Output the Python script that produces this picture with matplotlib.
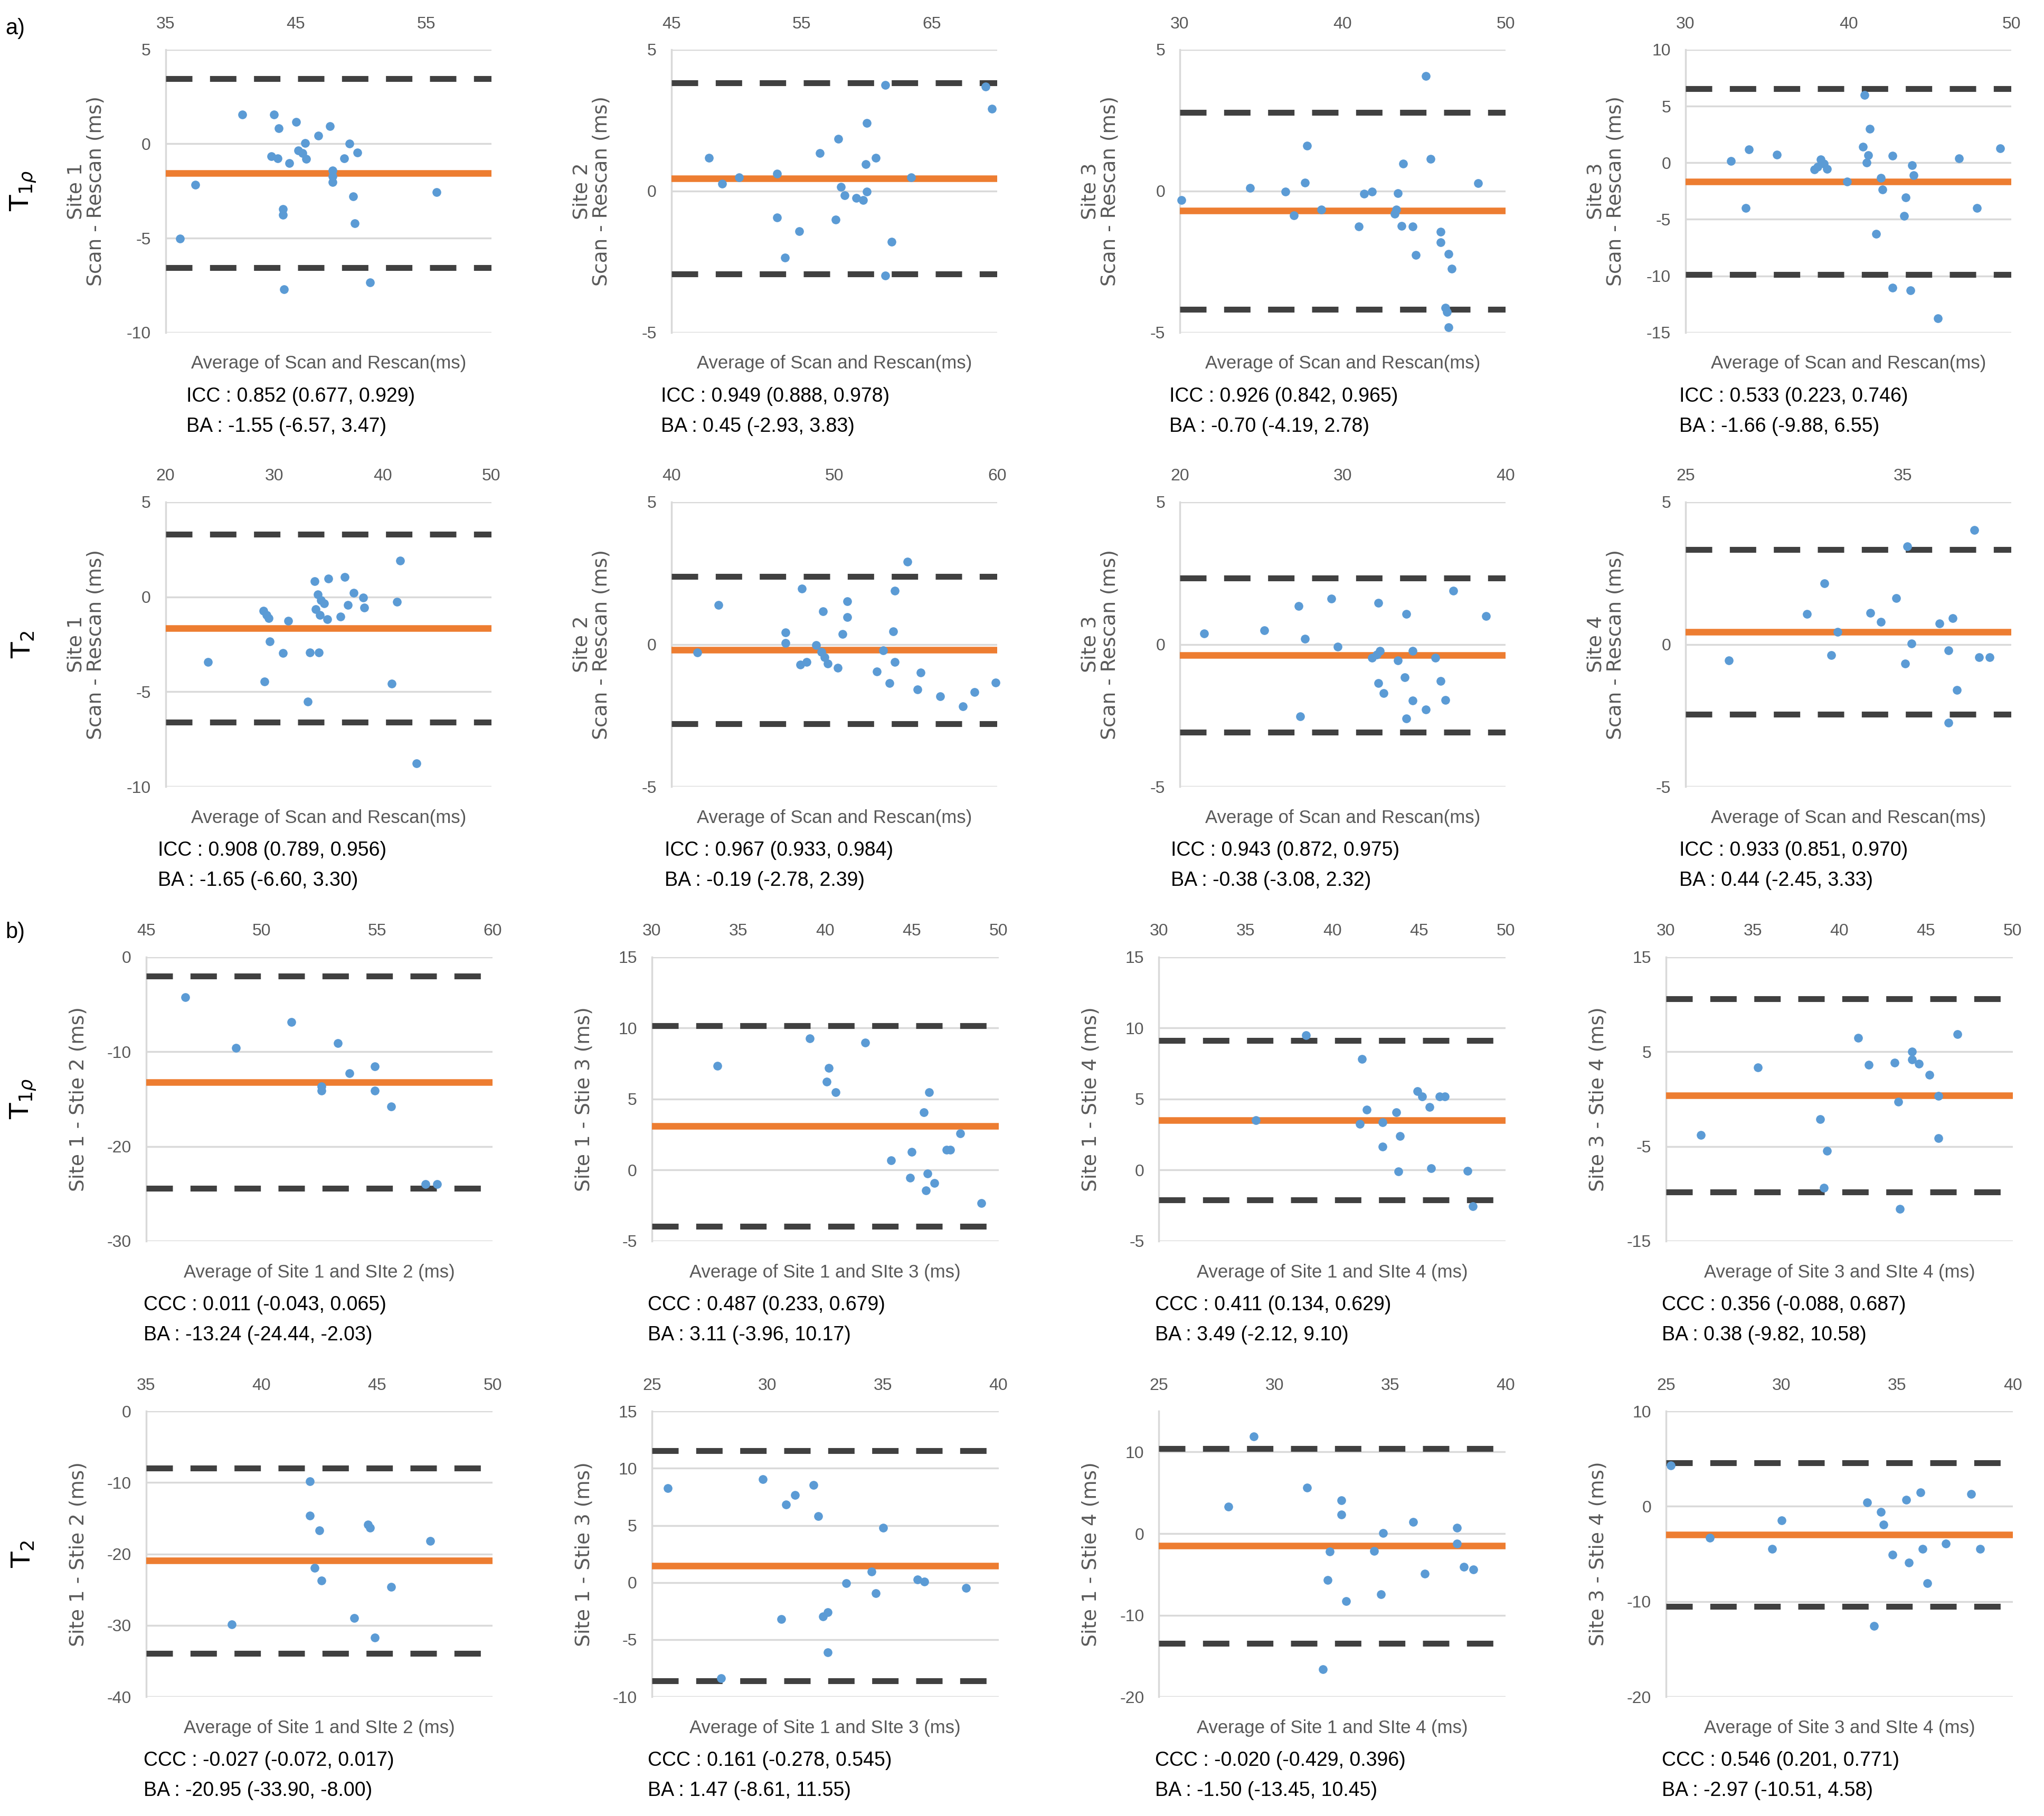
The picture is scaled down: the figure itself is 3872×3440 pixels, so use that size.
import numpy as np
import matplotlib.pyplot as plt

plt.rcParams['font.family'] = ['Liberation Sans Narrow', 'Liberation Sans', 'DejaVu Sans']
plt.rcParams['axes.unicode_minus'] = False

# ---- a) T1rho scan-rescan ----
t1r_site1_x = [36.1, 37.3, 40.9, 43.3, 43.7, 45.0, 46.7, 47.6, 45.7, 49.1, 49.7, 48.7, 43.1, 43.6, 44.5, 45.2, 45.5, 45.8, 47.8, 47.8, 47.8, 49.4, 44.0, 44.0, 49.5, 55.8, 44.1, 50.7]
t1r_site1_y = [-5.03, -2.17, 1.55, 1.55, 0.82, 1.17, 0.44, 0.94, 0.03, 0.0, -0.46, -0.78, -0.65, -0.78, -1.03, -0.35, -0.5, -0.8, -1.41, -1.72, -2.02, -2.78, -3.47, -3.77, -4.22, -2.55, -7.72, -7.34]
t1r_site2_x = [47.9, 48.9, 50.2, 53.1, 53.1, 54.8, 53.7, 56.4, 57.6, 57.8, 58.0, 58.3, 59.2, 59.7, 60.0, 59.9, 60.7, 60.0, 61.4, 61.4, 61.9, 63.4, 69.1, 69.6]
t1r_site2_y = [1.17, 0.25, 0.49, 0.61, -0.93, -1.42, -2.35, 1.34, -1.01, 1.85, 0.15, -0.15, -0.25, -0.33, -0.03, 0.94, 1.17, 2.40, 3.75, -2.99, -1.79, 0.48, 3.70, 2.91]
t1r_site3_x = [30.1, 34.3, 36.5, 37.0, 37.8, 37.7, 38.7, 41.0, 41.3, 41.8, 43.4, 43.3, 43.2, 43.7, 43.6, 44.3, 44.5, 45.1, 45.4, 46.0, 46.0, 46.5, 46.7, 46.3, 46.4, 46.5, 48.3]
t1r_site3_y = [-0.33, 0.10, -0.03, -0.86, 1.61, 0.30, -0.66, -1.26, -0.10, -0.03, -0.08, -0.66, -0.81, 0.96, -1.24, -1.26, -2.27, 4.06, 1.14, -1.44, -1.81, -2.22, -2.74, -4.13, -4.28, -4.81, 0.27]
t1r_site3b_x = [32.8, 33.9, 33.7, 35.6, 37.9, 38.1, 38.3, 38.5, 38.7, 39.9, 40.9, 41.2, 41.1, 41.0, 41.3, 42.0, 42.1, 41.7, 42.7, 43.9, 44.0, 43.5, 43.4, 42.7, 43.8, 45.5, 46.8, 47.9, 49.3]
t1r_site3b_y = [0.15, 1.16, -4.02, 0.71, -0.61, -0.35, 0.28, -0.10, -0.56, -1.67, 1.41, 0.66, 0.03, 5.96, 2.98, -1.36, -2.37, -6.29, 0.61, -0.23, -1.11, -3.08, -4.70, -11.04, -11.26, -13.74, 0.40, -4.02, 1.29]

# ---- a) T2 scan-rescan ----
t2_site1_x = [23.9, 29.0, 29.3, 29.5, 29.6, 29.1, 30.8, 31.3, 33.1, 33.3, 34.1, 33.7, 34.0, 34.3, 34.6, 33.8, 34.2, 34.9, 35.0, 36.1, 36.5, 36.8, 37.3, 38.2, 38.3, 40.8, 41.3, 41.6, 43.1]
t2_site1_y = [-3.43, -0.73, -0.96, -1.11, -2.35, -4.47, -2.97, -1.27, -5.52, -2.94, -2.94, 0.82, 0.12, -0.19, -0.34, -0.65, -0.96, -1.19, 0.97, -1.04, 1.05, -0.42, 0.20, -0.03, -0.57, -4.56, -0.26, 1.90, -8.76]
t2_site2_x = [41.6, 42.9, 47.0, 47.0, 47.9, 48.3, 48.0, 48.9, 49.2, 49.4, 49.6, 49.3, 50.2, 50.5, 50.8, 50.8, 52.6, 53.0, 53.4, 53.6, 53.7, 53.7, 54.5, 55.3, 55.1, 56.5, 57.9, 58.6, 59.9]
t2_site2_y = [-0.28, 1.38, 0.41, 0.05, -0.72, -0.62, 1.95, -0.03, -0.26, -0.46, -0.67, 1.16, -0.82, 0.36, 0.95, 1.51, -0.95, -0.21, -1.36, 0.46, 1.88, -0.62, 2.90, -0.99, -1.59, -1.82, -2.17, -1.67, -1.35]
t2_site3_x = [21.5, 25.2, 27.3, 27.7, 27.4, 29.3, 29.7, 32.2, 31.8, 32.1, 32.3, 32.2, 32.5, 33.4, 33.8, 33.9, 33.9, 34.3, 34.3, 35.1, 35.7, 36.0, 36.3, 36.8, 38.8]
t2_site3_y = [0.39, 0.49, 1.34, 0.19, -2.52, 1.60, -0.09, 1.45, -0.48, -0.36, -0.23, -1.36, -1.72, -0.56, -1.15, 1.06, -2.60, -0.23, -1.98, -2.29, -0.48, -1.29, -1.96, 1.89, 0.99]
t2_site4_x = [27.0, 30.6, 31.4, 31.7, 32.0, 33.5, 34.0, 34.7, 35.1, 35.2, 35.4, 36.7, 37.1, 37.1, 37.3, 37.5, 38.3, 38.5, 39.0]
t2_site4_y = [-0.56, 1.06, 2.14, -0.38, 0.44, 1.11, 0.78, 1.63, -0.67, 3.43, 0.03, 0.73, -0.21, -2.75, 0.91, -1.60, 4.02, -0.45, -0.45]

# ---- b) T1rho between sites ----
t1r_12_x = [46.7, 48.9, 51.3, 52.6, 52.6, 53.3, 53.8, 54.9, 54.9, 55.6, 57.1, 57.6]
t1r_12_y = [-4.28, -9.63, -6.88, -13.67, -14.13, -9.08, -12.29, -11.53, -14.13, -15.81, -24.0, -24.0]
t1r_13_x = [33.8, 39.1, 40.2, 40.1, 40.6, 42.3, 43.8, 45.0, 44.9, 45.7, 46.0, 45.9, 45.8, 46.3, 47.0, 47.2, 47.8, 49.0]
t1r_13_y = [7.33, 9.27, 7.17, 6.21, 5.46, 8.96, 0.67, 1.28, -0.55, 4.07, 5.46, -0.26, -1.43, -0.92, 1.43, 1.43, 2.59, -2.34]
t1r_14_x = [35.6, 38.5, 41.7, 41.6, 42.0, 42.9, 42.9, 43.7, 43.9, 43.8, 44.9, 45.2, 45.6, 45.7, 46.2, 46.5, 47.8, 48.1]
t1r_14_y = [3.50, 9.47, 7.80, 3.26, 4.24, 3.36, 1.63, 4.07, 2.40, -0.10, 5.54, 5.19, 4.42, 0.14, 5.19, 5.19, -0.06, -2.55]
t1r_34_x = [32.0, 35.3, 38.9, 39.3, 39.1, 41.1, 41.7, 43.2, 43.4, 43.5, 44.2, 44.2, 44.6, 45.2, 45.7, 45.7, 46.8]
t1r_34_y = [-3.79, 3.33, -2.11, -5.47, -9.39, 6.45, 3.61, 3.85, -0.28, -11.59, 4.98, 4.16, 3.70, 2.57, 0.34, -4.16, 6.85]

# ---- b) T2 between sites ----
t2_12_x = [38.7, 42.1, 42.1, 42.5, 42.3, 42.6, 44.0, 44.6, 44.7, 44.9, 45.6, 47.3]
t2_12_y = [-29.9, -9.84, -14.6, -16.7, -21.95, -23.7, -29.0, -15.9, -16.3, -31.7, -24.6, -18.2]
t2_13_x = [25.7, 28.0, 29.8, 30.6, 30.8, 31.2, 32.0, 32.2, 32.4, 32.6, 32.6, 33.4, 34.5, 34.7, 35.0, 36.5, 36.8, 38.6]
t2_13_y = [8.27, -8.37, 9.06, -3.18, 6.82, 7.66, 8.52, 5.80, -2.98, -2.60, -6.11, -0.05, 0.97, -0.94, 4.78, 0.25, 0.08, -0.48]
t2_14_x = [28.0, 29.1, 31.4, 32.9, 32.9, 32.4, 32.3, 33.1, 32.1, 34.3, 34.7, 34.6, 36.0, 36.5, 37.9, 37.9, 38.2, 38.6]
t2_14_y = [3.27, 11.92, 5.62, 4.09, 2.31, -2.21, -5.69, -8.29, -16.6, -2.14, 0.07, -7.47, 1.42, -4.91, 0.71, -1.25, -4.09, -4.38]
t2_34_x = [25.2, 26.9, 29.6, 30.0, 33.7, 34.3, 34.4, 34.0, 34.8, 35.4, 35.5, 36.0, 36.1, 36.3, 37.1, 38.2, 38.6]
t2_34_y = [4.32, -3.28, -4.44, -1.46, 0.43, -0.61, -1.91, -12.55, -5.05, 0.67, -5.93, 1.49, -4.44, -8.09, -3.89, 1.28, -4.44]

# Bland-Altman bias and limits of agreement, per panel (row by row)
ba_mean = [-1.55, 0.45, -0.70, -1.66, -1.65, -0.19, -0.38, 0.44,
           -13.24, 3.11, 3.49, 0.38, -20.95, 1.47, -1.50, -2.97]
ba_low = [-6.57, -2.93, -4.19, -9.88, -6.60, -2.78, -3.08, -2.45,
          -24.44, -3.96, -2.12, -9.82, -33.90, -8.61, -13.45, -10.51]
ba_high = [3.47, 3.83, 2.78, 6.55, 3.30, 2.39, 2.32, 3.33,
           -2.03, 10.17, 9.10, 10.58, -8.00, 11.55, 10.45, 4.58]

agree_text = ["ICC : 0.852 (0.677, 0.929)", "ICC : 0.949 (0.888, 0.978)", "ICC : 0.926 (0.842, 0.965)", "ICC : 0.533 (0.223, 0.746)",
              "ICC : 0.908 (0.789, 0.956)", "ICC : 0.967 (0.933, 0.984)", "ICC : 0.943 (0.872, 0.975)", "ICC : 0.933 (0.851, 0.970)",
              "CCC : 0.011 (-0.043, 0.065)", "CCC : 0.487 (0.233, 0.679)", "CCC : 0.411 (0.134, 0.629)", "CCC : 0.356 (-0.088, 0.687)",
              "CCC : -0.027 (-0.072, 0.017)", "CCC : 0.161 (-0.278, 0.545)", "CCC : -0.020 (-0.429, 0.396)", "CCC : 0.546 (0.201, 0.771)"]

ylabels = ["Site 1\nScan - Rescan (ms)", "Site 2\nScan - Rescan (ms)", "Site 3\nScan - Rescan (ms)", "Site 3\nScan - Rescan (ms)",
           "Site 1\nScan - Rescan (ms)", "Site 2\nScan - Rescan (ms)", "Site 3\nScan - Rescan (ms)", "Site 4\nScan - Rescan (ms)",
           "Site 1 - Stie 2 (ms)", "Site 1 - Stie 3 (ms)", "Site 1 - Stie 4 (ms)", "Site 3 - Stie 4 (ms)",
           "Site 1 - Stie 2 (ms)", "Site 1 - Stie 3 (ms)", "Site 1 - Stie 4 (ms)", "Site 3 - Stie 4 (ms)"]
xlabels = ["Average of Scan and Rescan(ms)"] * 8 + \
          ["Average of Site 1 and SIte 2 (ms)", "Average of Site 1 and SIte 3 (ms)",
           "Average of Site 1 and SIte 4 (ms)", "Average of Site 3 and SIte 4 (ms)"] * 2

xs = [t1r_site1_x, t1r_site2_x, t1r_site3_x, t1r_site3b_x, t2_site1_x, t2_site2_x, t2_site3_x, t2_site4_x,
      t1r_12_x, t1r_13_x, t1r_14_x, t1r_34_x, t2_12_x, t2_13_x, t2_14_x, t2_34_x]
ys = [t1r_site1_y, t1r_site2_y, t1r_site3_y, t1r_site3b_y, t2_site1_y, t2_site2_y, t2_site3_y, t2_site4_y,
      t1r_12_y, t1r_13_y, t1r_14_y, t1r_34_y, t2_12_y, t2_13_y, t2_14_y, t2_34_y]

# axis ranges (min, max, step)
xaxes = [(35, 60, 10), (45, 70, 10), (30, 50, 10), (30, 50, 10),
         (20, 50, 10), (40, 60, 10), (20, 40, 10), (25, 40, 10),
         (45, 60, 5), (30, 50, 5), (30, 50, 5), (30, 50, 5),
         (35, 50, 5), (25, 40, 5), (25, 40, 5), (25, 40, 5)]
yaxes = [(-10, 5, 5), (-5, 5, 5), (-5, 5, 5), (-15, 10, 5),
         (-10, 5, 5), (-5, 5, 5), (-5, 5, 5), (-5, 5, 5),
         (-30, 0, 10), (-5, 15, 5), (-5, 15, 5), (-15, 15, 10),
         (-40, 0, 10), (-10, 15, 5), (-20, 15, 10), (-20, 10, 10)]

BLUE = '#5B9BD5'
ORANGE = '#ED7D31'
DARK = '#404040'
GRID = '#D9D9D9'
GREY = '#595959'

fig = plt.figure(figsize=(38.72, 34.40), dpi=100)
W, H = 1568.0, 1393.0   # layout measured on the reduced reference
row_top = [38, 385, 734, 1082.5]
row_bot = [255, 603.5, 952, 1301.5]
col_left = [[127, 515, 905, 1293], [127, 515, 905, 1293], [112, 500, 889, 1278], [112, 500, 889, 1278]]
col_w = [250, 250, 266, 266]
txt_left = [[143, 507, 897, 1288], [121, 510, 898, 1288], [110, 497, 886, 1275], [110, 497, 886, 1275]]
ba_fmt = "BA : {:.2f} ({:.2f}, {:.2f})"

for r in range(4):
    for c in range(4):
        k = r * 4 + c
        left = col_left[r][c]
        ax = fig.add_axes([left / W, 1 - row_bot[r] / H, col_w[r] / W, (row_bot[r] - row_top[r]) / H])
        x0, x1, xs_ = xaxes[k]
        y0, y1, ys_ = yaxes[k]
        ax.set_xlim(x0, x1)
        ax.set_ylim(y0, y1)
        ax.set_xticks(np.arange(x0, x1 + 0.01, xs_))
        ax.set_yticks(np.arange(y0, y1 + 0.01, ys_))
        ax.grid(axis='y', color=GRID, lw=2.5)
        ax.grid(axis='x', visible=False)
        ax.set_axisbelow(True)
        ax.xaxis.tick_top()
        ax.tick_params(axis='x', length=0, pad=24, labelsize=23, labelcolor=GREY)
        ax.tick_params(axis='y', length=0, pad=20, labelsize=23, labelcolor=GREY)
        for s in ['top', 'right', 'bottom']:
            ax.spines[s].set_visible(False)
        ax.spines['left'].set_color(GRID)
        ax.spines['left'].set_linewidth(2.5)

        ax.axhline(ba_mean[k], color=ORANGE, lw=9, zorder=3)
        ax.axhline(ba_low[k], color=DARK, lw=8, ls=(0, (4.5, 3)), zorder=3)
        ax.axhline(ba_high[k], color=DARK, lw=8, ls=(0, (4.5, 3)), zorder=3)
        ax.plot(xs[k], ys[k], 'o', color=BLUE, ms=12, mec='none', zorder=4, clip_on=False)

        cx = (left + col_w[r] / 2) / W
        fig.text(cx, 1 - (row_bot[r] + 24) / H, xlabels[k], ha='center', va='center',
                 fontsize=25, color=GREY)
        fig.text(txt_left[r][c] / W, 1 - (row_bot[r] + 49) / H, agree_text[k],
                 ha='left', va='center', fontsize=27, color='black')
        fig.text(txt_left[r][c] / W, 1 - (row_bot[r] + 72) / H,
                 ba_fmt.format(ba_mean[k], ba_low[k], ba_high[k]),
                 ha='left', va='center', fontsize=27, color='black')
        off = 61 if r < 2 else 52
        cy = 1 - (row_top[r] + row_bot[r]) / 2 / H
        fig.text((left - off) / W, cy, ylabels[k], rotation=90, ha='center', va='center',
                 fontsize=27, color=GREY, family='DejaVu Sans', linespacing=1.05)

row_names = [r'T$_{1\rho}$', r'T$_{2}$', r'T$_{1\rho}$', r'T$_{2}$']
for r in range(4):
    cy = 1 - (row_top[r] + row_bot[r]) / 2 / H
    fig.text(18 / W, cy, row_names[r], rotation=90, ha='center', va='center',
             fontsize=36, color='black', family='DejaVu Sans')

fig.text(4 / W, 1 - 22 / H, 'a)', ha='left', va='center', fontsize=30)
fig.text(4 / W, 1 - 715 / H, 'b)', ha='left', va='center', fontsize=30)

fig.savefig('out.png', dpi=100)
